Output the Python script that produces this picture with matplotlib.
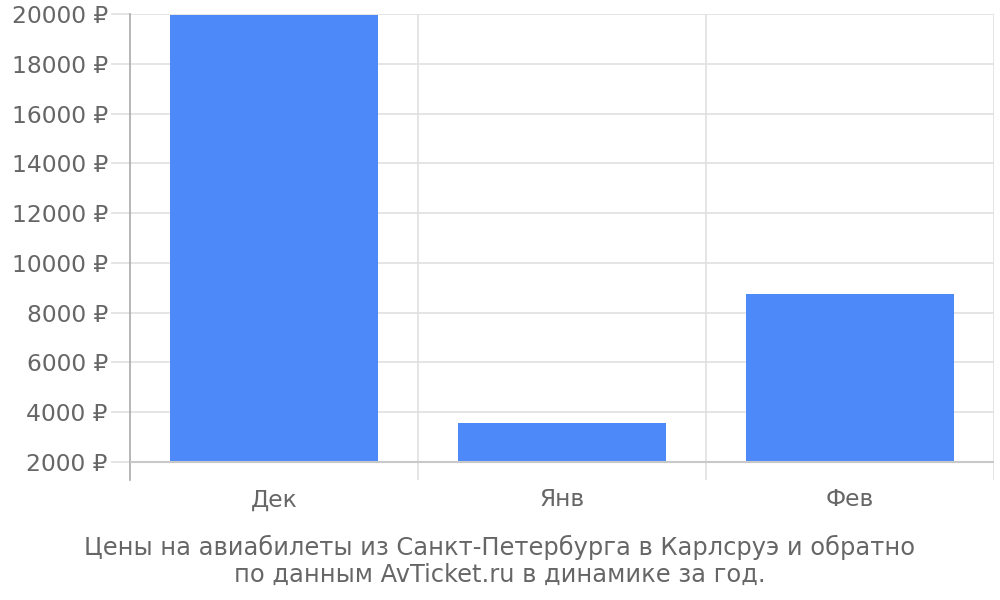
import matplotlib
matplotlib.use("Agg")
import matplotlib.pyplot as plt

categories = ["Дек", "Янв", "Фев"]
prices = [19970, 3580, 8750]
yticks = [2000, 4000, 6000, 8000, 10000, 12000, 14000, 16000, 18000, 20000]
title_lines = ["Цены на авиабилеты из Санкт-Петербурга в Карлсруэ и обратно",
               "по данным AvTicket.ru в динамике за год."]

plt.rcParams['font.family'] = ['DejaVu Sans']
fig = plt.figure(figsize=(10, 6), dpi=100)
ax = fig.add_axes([0.130, 0.200, 0.864, 0.7767])

x = list(range(len(categories)))
base = 2000
ax.bar(x, [p - base for p in prices], bottom=base, width=0.72, color="#4d89f9", zorder=3)

ax.set_xlim(-0.5, len(categories) - 0.5)
ax.set_ylim(1275, 20000)

ax.set_yticks(yticks)
ax.set_yticklabels([f"{v} ₽" for v in yticks])
ax.set_xticks(x)
ax.set_xticklabels(categories)

ax.yaxis.grid(True, color="#e0e0e0", linewidth=1.2, zorder=0)
for b in [0.5, 1.5, 2.5]:
    ax.axvline(b, color="#e0e0e0", linewidth=1.2, zorder=0)
ax.axhline(base, color="#c8c8c8", linewidth=1.5, zorder=4)

for s in ["top", "right", "bottom"]:
    ax.spines[s].set_visible(False)
ax.spines["left"].set_color("#aaaaaa")
ax.spines["left"].set_linewidth(1.2)

ax.tick_params(axis="y", length=14, width=1.2, color="#e0e0e0", labelsize=16.8,
               labelcolor="#666666", pad=2)
ax.tick_params(axis="x", length=0, labelsize=16.8, labelcolor="#666666", pad=6)

fig.text(0.5, 1 - 547 / 600, title_lines[0], ha="center", va="center", fontsize=17.4, color="#666666")
fig.text(0.5, 1 - 575 / 600, title_lines[1], ha="center", va="center", fontsize=17.4, color="#666666")

fig.savefig("out.png", dpi=100)
